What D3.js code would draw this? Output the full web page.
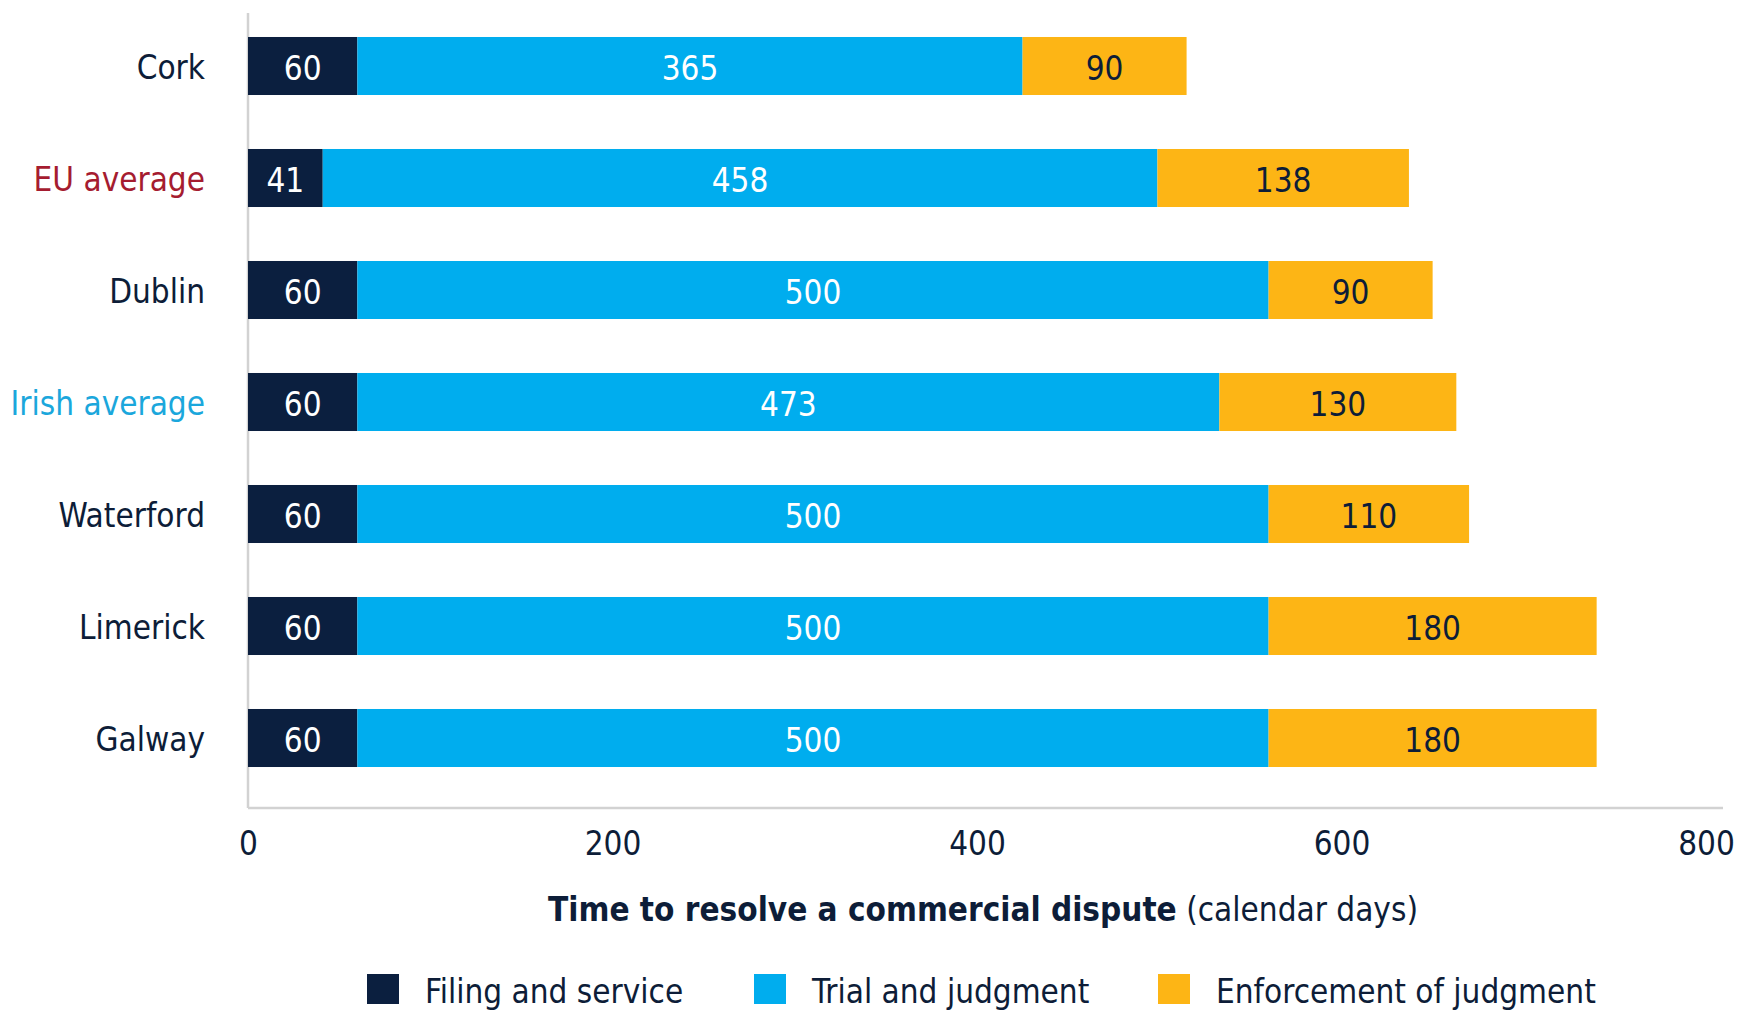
<!DOCTYPE html>
<html>
<head>
<meta charset="utf-8">
<script src="https://cdn.jsdelivr.net/npm/d3@7"></script>
<style>
  body { margin: 0; background: #fff; }
  svg text { font-family: "Liberation Sans Narrow", "DejaVu Sans Condensed", "Noto Sans", sans-serif; }
</style>
</head>
<body>
<div class="graph"></div>
<script>
// data
var cities = ["Cork", "EU average", "Dublin", "Irish average", "Waterford", "Limerick", "Galway"];
var filing = [60, 41, 60, 60, 60, 60, 60];
var trial = [365, 458, 500, 473, 500, 500, 500];
var enforcement = [90, 138, 90, 130, 110, 180, 180];
var seriesNames = ["Filing and service", "Trial and judgment", "Enforcement of judgment"];
var xTicks = [0, 200, 400, 600, 800];

var text_color = "#0d1d38";
var colors = ["#0b1f3f", "#00adee", "#fdb515"];
var labelColors = ["#ffffff", "#ffffff", "#0d1d38"];
var cityColor = { "EU average": "#a51c30", "Irish average": "#1ba7dc" };
var fontSize = 33;

function createGraph() {
    var svgWidth = 1739, svgHeight = 1010;
    var svg = d3.select("div.graph").append("svg")
        .attr("width", svgWidth)
        .attr("height", svgHeight);

    var rows = cities.map(function (c, i) {
        return { city: c, f: filing[i], t: trial[i], e: enforcement[i] };
    });
    var layers = d3.stack().keys(["f", "t", "e"])(rows);

    var x = d3.scaleLinear().domain([0, 800]).range([248, 1706]);
    var y = d3.scaleBand().domain(cities).range([10, 794])
        .paddingInner(0.482).paddingOuter(0.241);

    // axis lines
    svg.append("line")
        .attr("x1", x(0)).attr("x2", x(0))
        .attr("y1", 13).attr("y2", 808)
        .attr("stroke", "#d2d2d2").attr("stroke-width", 2.5);
    svg.append("line")
        .attr("x1", x(0)).attr("x2", x(800) + 17)
        .attr("y1", 808).attr("y2", 808)
        .attr("stroke", "#d2d2d2").attr("stroke-width", 2.5);

    // bars
    var layer = svg.selectAll("g.layer")
        .data(layers)
        .enter().append("g")
        .attr("class", "layer")
        .attr("fill", function (d, i) { return colors[i]; });

    layer.selectAll("rect")
        .data(function (d) { return d; })
        .enter().append("rect")
        .attr("x", function (d) { return x(d[0]); })
        .attr("y", function (d) { return y(d.data.city); })
        .attr("width", function (d) { return x(d[1]) - x(d[0]); })
        .attr("height", y.bandwidth());

    layer.selectAll("text")
        .data(function (d, i) { return d.map(function (v) { return { v: v, i: i }; }); })
        .enter().append("text")
        .attr("x", function (d) { return (x(d.v[0]) + x(d.v[1])) / 2; })
        .attr("y", function (d) { return y(d.v.data.city) + y.bandwidth() / 2 + 2; })
        .attr("dy", "0.36em")
        .attr("text-anchor", "middle")
        .attr("font-size", fontSize)
        .attr("fill", function (d) { return labelColors[d.i]; })
        .text(function (d) { return d.v[1] - d.v[0]; });

    // category axis
    var yAxis = svg.append("g")
        .attr("transform", "translate(" + x(0) + ",2)")
        .call(d3.axisLeft(y).tickSize(0).tickPadding(43));
    yAxis.select(".domain").remove();
    yAxis.selectAll("text")
        .attr("font-size", fontSize)
        .attr("font-family", null)
        .attr("fill", function (d) { return cityColor[d] || text_color; });

    // value axis
    var xAxis = svg.append("g")
        .attr("transform", "translate(0,810)")
        .call(d3.axisBottom(x).tickValues(xTicks).tickSize(0).tickPadding(22));
    xAxis.select(".domain").remove();
    xAxis.selectAll("text")
        .attr("font-size", fontSize)
        .attr("font-family", null)
        .attr("fill", text_color);

    // axis title
    var title = svg.append("text")
        .attr("x", 983)
        .attr("y", 921)
        .attr("text-anchor", "middle")
        .attr("font-size", fontSize)
        .attr("fill", text_color);
    title.append("tspan").attr("font-weight", "bold").text("Time to resolve a commercial dispute");
    title.append("tspan").text(" (calendar days)");

    // legend
    var legendX = [367, 754, 1158];
    var legend = svg.selectAll("g.legend")
        .data(seriesNames)
        .enter().append("g")
        .attr("class", "legend")
        .attr("transform", function (d, i) { return "translate(" + legendX[i] + ",974)"; });
    legend.append("rect")
        .attr("width", 32).attr("height", 30)
        .attr("fill", function (d, i) { return colors[i]; });
    legend.append("text")
        .attr("x", 58).attr("y", 17).attr("dy", "0.36em")
        .attr("font-size", fontSize)
        .attr("fill", text_color)
        .text(function (d) { return d; });
}

createGraph();
</script>
</body>
</html>
